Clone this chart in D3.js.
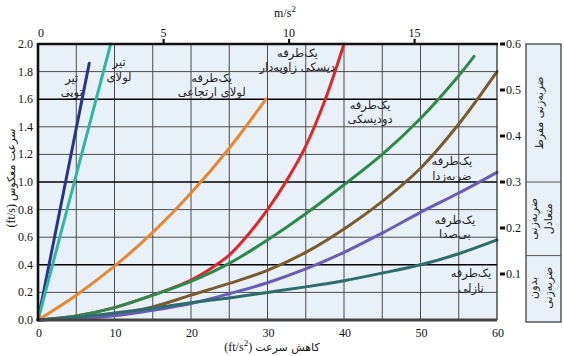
<!DOCTYPE html>
<html><head><meta charset="utf-8">
<script src="https://cdn.jsdelivr.net/npm/d3@7"></script>
<style>
body{margin:0;background:#fff;}
svg text{font-family:"Liberation Serif","DejaVu Serif",serif;}
.fa{font-family:"DejaVu Sans","Noto Sans",sans-serif;}
</style></head>
<body><svg id="c" width="564" height="356"></svg>
<script>
// ---- data ----
const xTicks = [0,10,20,30,40,50,60];
const xTopTicks = [0,5,10,15];
const yTicks = [0,0.2,0.4,0.6,0.8,1.0,1.2,1.4,1.6,1.8,2.0];
const yRightTicks = [0.1,0.2,0.3,0.4,0.5,0.6];
const majorY = [0.4,1.0,1.6];
const zoneBreaks = [0.6,0.3,0.14,0];
const zoneLabels = [["ضربه‌زنی مفرط"],["ضربه‌زنی","متعادل"],["بدون","ضربه‌زنی"]];

const navyX = [0,6.7], navyY = [0,1.86];
const tealX = [0,9.5], tealY = [0,2.0];
const orangeX = [0,5,10,15,20,25,29.8];
const orangeY = [0,0.18,0.39,0.635,0.92,1.245,1.6];
const redX = [0,5,10,15,20,22.5,25,27.5,30,32.5,35,37.5,40];
const redY = [0,0.03,0.09,0.18,0.29,0.37,0.47,0.62,0.8,1.01,1.26,1.59,2.0];
const greenX = [0,5,10,15,20,25,30,35,40,45,50,55,57];
const greenY = [0,0.03,0.09,0.18,0.28,0.41,0.58,0.77,0.98,1.2,1.46,1.77,1.91];
const brownX = [0,5,10,15,20,25,30,35,40,45,50,55,60];
const brownY = [0,0.01,0.04,0.095,0.18,0.265,0.36,0.49,0.66,0.86,1.1,1.42,1.80];
const purpleX = [0,5,10,15,20,25,30,35,40,45,50,55,60];
const purpleY = [0,0.01,0.03,0.07,0.12,0.19,0.27,0.37,0.49,0.63,0.78,0.92,1.07];
const dtealX = [0,5,10,15,20,25,30,35,40,45,50,55,60];
const dtealY = [0,0.02,0.05,0.085,0.125,0.16,0.2,0.24,0.285,0.34,0.4,0.48,0.58];

const seriesNames = ["navy","teal","orange","red","green","brown","purple","dteal"];
const seriesColors = ["#27338c","#2fb7a0","#ea8530","#e0252d","#2e8a4c","#7a5b2e","#6a5cb4","#2d6d6e"];
const seriesXs = [navyX,tealX,orangeX,redX,greenX,brownX,purpleX,dtealX];
const seriesYs = [navyY,tealY,orangeY,redY,greenY,brownY,purpleY,dtealY];
const seriesLabels = [["تیر","توپی"],["تیر","لولای"],["یک‌طرفه","لولای ارتجاعی"],["یک‌طرفه","دیسکی زاویه‌دار"],["یک‌طرفه","دودیسکی"],["یک‌طرفه","ضربه‌زدا"],["یک‌طرفه","بی‌صدا"],["یک‌طرفه","نازلی"]];
const labelAnchors = [[4.4,1.725],[10.6,1.84],[22.7,1.725],[33.9,1.906],[43.4,1.53],[54.1,1.123],[54.5,0.696],[56.6,0.31]];

// ---- layout ----
const L=38,R=497,T=44,B=320;
const svg = d3.select("#c");
const x = d3.scaleLinear().domain([0,60]).range([L,R]);
const xTop = d3.scaleLinear().domain([0,60/3.28084]).range([L,R]);
const y = d3.scaleLinear().domain([0,2.0]).range([B,T]);
const yR = d3.scaleLinear().domain([0,0.6]).range([B,T]);

svg.append("rect").attr("x",L).attr("y",T).attr("width",R-L).attr("height",B-T).attr("fill","#e9f1f8");

// grid
svg.append("g").selectAll("line").data(d3.range(5,60,5)).join("line")
  .attr("x1",d=>x(d)).attr("x2",d=>x(d)).attr("y1",T).attr("y2",B)
  .attr("stroke","#4a4a4a").attr("stroke-width",1);
svg.append("g").selectAll("line").data(yTicks.filter(d=>d>0&&d<2)).join("line")
  .attr("x1",L).attr("x2",R).attr("y1",d=>y(d)).attr("y2",d=>y(d))
  .attr("stroke",d=>majorY.includes(d)?"#000":"#4a4a4a")
  .attr("stroke-width",d=>majorY.includes(d)?1.6:1);

// curves
const line = d3.line().x(d=>x(d[0])).y(d=>y(d[1])).curve(d3.curveCatmullRom.alpha(0.5));
seriesNames.forEach((n,i)=>{
  const pts = seriesXs[i].map((v,j)=>[v,seriesYs[i][j]]);
  svg.append("path").datum(pts).attr("d",line).attr("fill","none")
    .attr("stroke",seriesColors[i]).attr("stroke-width",3).attr("stroke-linecap","round");
});

// borders
svg.append("line").attr("x1",R).attr("x2",R).attr("y1",T).attr("y2",B).attr("stroke","#222").attr("stroke-width",1.2);
svg.append("line").attr("x1",L).attr("x2",R).attr("y1",B).attr("y2",B).attr("stroke","#444").attr("stroke-width",3);
svg.append("line").attr("x1",L).attr("x2",R+1).attr("y1",T).attr("y2",T).attr("stroke","#111").attr("stroke-width",2.6);
svg.append("line").attr("x1",L).attr("x2",L).attr("y1",T-1).attr("y2",B+1).attr("stroke","#111").attr("stroke-width",2.6);

// bottom axis labels
svg.append("g").selectAll("text").data(xTicks).join("text")
  .attr("x",d=>x(d)+1).attr("y",337).attr("text-anchor","middle").attr("font-size",12).attr("fill","#111").text(d=>d);
// top axis
svg.append("g").selectAll("text").data(xTopTicks).join("text")
  .attr("x",d=>d===0?xTop(d)+3:xTop(d)).attr("y",37).attr("text-anchor","middle").attr("font-size",12).attr("fill","#111").text(d=>d);
svg.append("g").selectAll("rect").data(xTopTicks.filter(d=>d>0)).join("rect")
  .attr("x",d=>xTop(d)-1).attr("y",T-5).attr("width",2.2).attr("height",5).attr("fill","#111");
const tt = svg.append("text").attr("x",285).attr("y",17).attr("text-anchor","middle").attr("font-size",12).attr("fill","#111");
tt.append("tspan").text("m/s");
tt.append("tspan").attr("dy",-5).attr("font-size",9).text("2");

// left axis labels
svg.append("g").selectAll("text").data(yTicks).join("text")
  .attr("x",33).attr("y",d=>y(d)+4).attr("text-anchor","end").attr("font-size",12).attr("fill","#111").text(d=>d.toFixed(1));
// right axis
svg.append("g").selectAll("rect").data(yRightTicks).join("rect")
  .attr("x",500).attr("y",d=>yR(d)-1.5).attr("width",5).attr("height",3).attr("fill","#111");
svg.append("g").selectAll("text").data(yRightTicks).join("text")
  .attr("x",506).attr("y",d=>yR(d)+4).attr("font-size",12).attr("fill","#111").text(d=>d.toFixed(1));

// axis titles
const bt = svg.append("text").attr("x",272).attr("y",351).attr("text-anchor","middle").attr("font-size",12).attr("fill","#111");
bt.append("tspan").text("(ft/s");
bt.append("tspan").attr("dy",-5).attr("font-size",9).text("2");
bt.append("tspan").attr("dy",5).text(") ");
bt.append("tspan").attr("class","fa").attr("font-size",11).text("کاهش سرعت");
const lt = svg.append("text").attr("transform","translate(15,178) rotate(-90)").attr("text-anchor","middle").attr("font-size",12).attr("fill","#111");
lt.append("tspan").text("(ft/s) ");
lt.append("tspan").attr("class","fa").attr("font-size",11).text("سرعت معکوس");

// zone box
const zb = [526,561];
svg.append("rect").attr("x",zb[0]).attr("y",yR(0.6)).attr("width",zb[1]-zb[0]).attr("height",yR(0)-yR(0.6)+2)
  .attr("fill","#e9f1f8").attr("stroke","#333").attr("stroke-width",1.2);
svg.append("g").selectAll("line").data([0.3,0.14]).join("line")
  .attr("x1",zb[0]).attr("x2",zb[1]).attr("y1",d=>yR(d)).attr("y2",d=>yR(d)).attr("stroke","#555").attr("stroke-width",1);
zoneLabels.forEach((lines,i)=>{
  const cy = (yR(zoneBreaks[i])+yR(zoneBreaks[i+1]))/2;
  const n = lines.length;
  lines.forEach((t,j)=>{
    const cx = n===1 ? 543 : 544.5 + (j-(n-1)/2)*15;
    svg.append("text").attr("class","fa").attr("transform",`translate(${cx},${cy}) rotate(-90)`)
      .attr("text-anchor","middle").attr("font-size",11).attr("fill","#222").text(t);
  });
});

// series labels
seriesLabels.forEach((lines,i)=>{
  const [ax,ay] = labelAnchors[i];
  lines.forEach((t,j)=>{
    svg.append("text").attr("class","fa").attr("x",x(ax)).attr("y",y(ay)+j*14.5)
      .attr("text-anchor","middle").attr("font-size",11.5).attr("fill","#222").text(t);
  });
});
</script></body></html>
